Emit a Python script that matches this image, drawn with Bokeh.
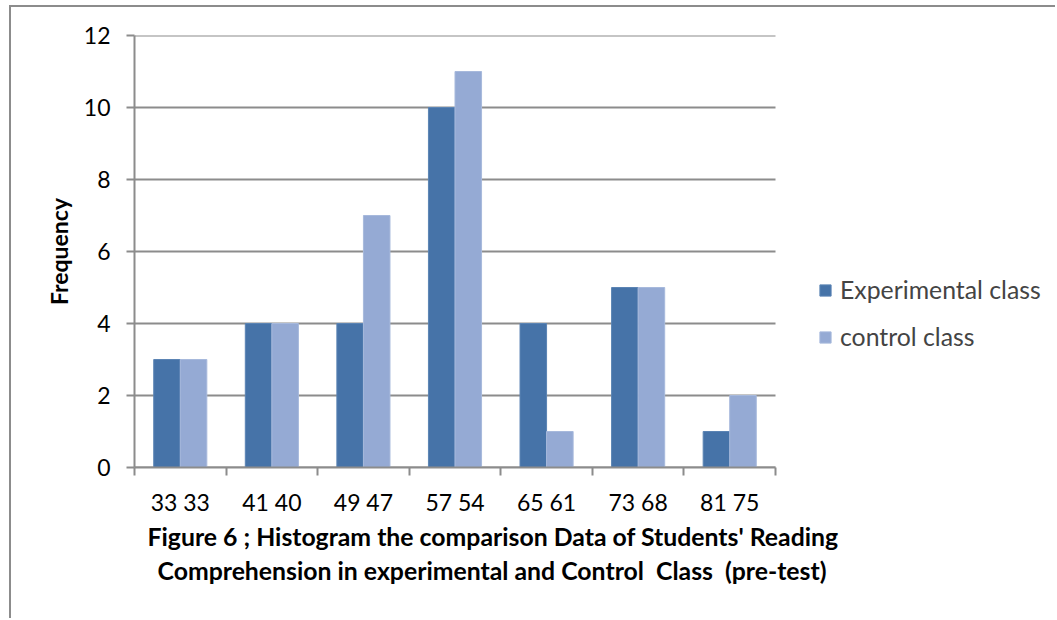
import numpy as np
from bokeh.plotting import figure
from bokeh.models import (ColumnDataSource, FixedTicker, Legend, LegendItem, Title)
from bokeh.embed import file_html
from bokeh.resources import INLINE

# Score intervals (experimental / control) and frequencies
categories = ["33 33", "41 40", "49 47", "57 54", "65 61", "73 68", "81 75"]
experimental = [3, 4, 4, 10, 4, 5, 1]
control = [3, 4, 7, 11, 1, 5, 2]
y_ticks = [0, 2, 4, 6, 8, 10, 12]
caption = ["Figure 6 ; Histogram the comparison Data of Students' Reading",
           "Comprehension in experimental and Control\u00a0 Class\u00a0 (pre-test)"]

FONT = "Lato"
EXP_COLOR = "#4673A8"
CTL_COLOR = "#95AAD4"
GRID = "#8C8C8C"

n = len(categories)
centers = np.arange(n) + 0.5
bar_w = 0.29
src = ColumnDataSource(dict(
    x_exp=centers - bar_w / 2,
    x_ctl=centers + bar_w / 2,
    exp=experimental,
    ctl=control,
))

# plot area: 641 px for the categories, the frame carries on to the right
# so that the legend can sit beside the bars
PLOT_PX = 641
FRAME_PX = 1046 - 123
p = figure(width=1046, height=613, output_backend="svg", toolbar_location=None,
           x_range=(0, n * FRAME_PX / PLOT_PX), y_range=(0, 12),
           min_border_left=123, min_border_right=0,
           min_border_top=28, min_border_bottom=153,
           margin=(7, 0, 0, 11))
# thin grey frame on the top and left of the whole chart
p.styles = {"box-shadow": "-2px -2px 0 0 #8C8C8C"}
p.outline_line_color = None
p.background_fill_color = "white"
p.border_fill_color = "white"

# horizontal grid lines over the category span only
p.segment(x0=[0] * len(y_ticks), x1=[n] * len(y_ticks), y0=y_ticks, y1=y_ticks,
          line_color=GRID, line_width=2)

r_exp = p.vbar(x="x_exp", top="exp", width=bar_w, source=src,
               fill_color=EXP_COLOR, line_color="#5B84B4", line_width=1)
r_ctl = p.vbar(x="x_ctl", top="ctl", width=bar_w, source=src,
               fill_color=CTL_COLOR, line_color="#A7B9DC", line_width=1)

# x axis: labels at category centres, tick marks on category boundaries
xa = p.xaxis[0]
xa.bounds = (0, n)
xa.ticker = FixedTicker(ticks=list(centers), minor_ticks=list(range(n + 1)))
xa.major_label_overrides = {float(c): lab for c, lab in zip(centers, categories)}
xa.major_tick_in = 0
xa.major_tick_out = 0
xa.minor_tick_in = 0
xa.minor_tick_out = 8
xa.minor_tick_line_color = GRID
xa.axis_line_color = GRID
xa.axis_line_width = 2
xa.minor_tick_line_width = 2
xa.major_label_text_font = FONT
xa.major_label_text_font_size = "23px"
xa.major_label_text_color = "black"
xa.major_label_standoff = 12

ya = p.yaxis[0]
ya.ticker = FixedTicker(ticks=y_ticks)
ya.minor_tick_line_color = None
ya.major_tick_in = 0
ya.major_tick_out = 8
ya.major_tick_line_color = GRID
ya.major_tick_line_width = 2
ya.axis_line_color = GRID
ya.axis_line_width = 2
ya.major_label_text_font = FONT
ya.major_label_text_font_size = "23px"
ya.major_label_text_color = "black"
ya.major_label_standoff = 16
ya.axis_label = "Frequency"
ya.axis_label_text_font = FONT
ya.axis_label_text_font_style = "bold"
ya.axis_label_text_font_size = "23px"
ya.axis_label_text_color = "black"
ya.axis_label_standoff = 8

p.xgrid.grid_line_color = None
p.ygrid.grid_line_color = None

legend = Legend(items=[LegendItem(label="Experimental class", renderers=[r_exp]),
                       LegendItem(label="control class", renderers=[r_ctl])],
                location=(684, 116), orientation="vertical",
                glyph_width=14, glyph_height=14, label_height=29,
                spacing=18, padding=0, margin=0,
                label_text_font=FONT, label_text_font_size="24.8px",
                label_standoff=8, border_line_color=None,
                background_fill_alpha=0)
p.add_layout(legend, "center")

# two-line caption under the axis, centred under the plot and legend
for line, shift in zip(caption, [13, 23]):
    p.add_layout(Title(text=line, align="left", offset=shift,
                       text_font=FONT, text_font_style="bold",
                       text_font_size="24.8px", text_color="black",
                       standoff=3), "below")

open("out.html", "w").write(file_html(p, INLINE))
